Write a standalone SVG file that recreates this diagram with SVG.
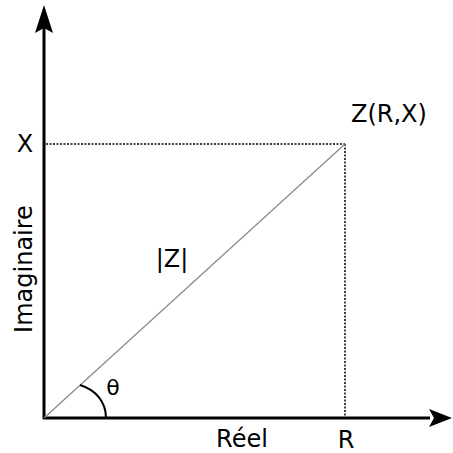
<svg xmlns="http://www.w3.org/2000/svg" width="453" height="453" viewBox="0 0 453 453">
<style>
text{font-family:"DejaVu Sans",sans-serif;font-size:24px;fill:#000}
.axis{stroke:#000;stroke-width:3;fill:none}
.dot{stroke:#000;stroke-width:1.5;stroke-dasharray:2,1.5;fill:none}
</style>
<rect width="453" height="453" fill="#fff"/>
<g id="connectors">
<line class="axis" x1="44" y1="419" x2="44" y2="26"/>
<path d="M44,5 L53,33 L44,28 L35,33 Z" fill="#000"/>
<line class="axis" x1="43" y1="418" x2="430" y2="418"/>
<path d="M452,418 L429,427 L434,418 L429,409 Z" fill="#000"/>
<line class="dot" x1="46" y1="144" x2="345" y2="144"/>
<line class="dot" x1="345" y1="144" x2="345" y2="416"/>
<line x1="44" y1="418" x2="345" y2="144" stroke="#888" stroke-width="1.2"/>
<path d="M80,385 C96,390 106,402 106,418" stroke="#000" stroke-width="2" fill="none"/>
</g>
<g id="labels">
<text x="351" y="122">Z(R,X)</text>
<text x="25" y="152" text-anchor="middle">X</text>
<text x="172" y="267" text-anchor="middle">|Z|</text>
<text x="113" y="395" text-anchor="middle" style="font-size:22px">θ</text>
<text x="242" y="447" text-anchor="middle">Réel</text>
<text x="346" y="448" text-anchor="middle">R</text>
<text transform="translate(32,269) rotate(-90)" text-anchor="middle">Imaginaire</text>
</g>
</svg>
